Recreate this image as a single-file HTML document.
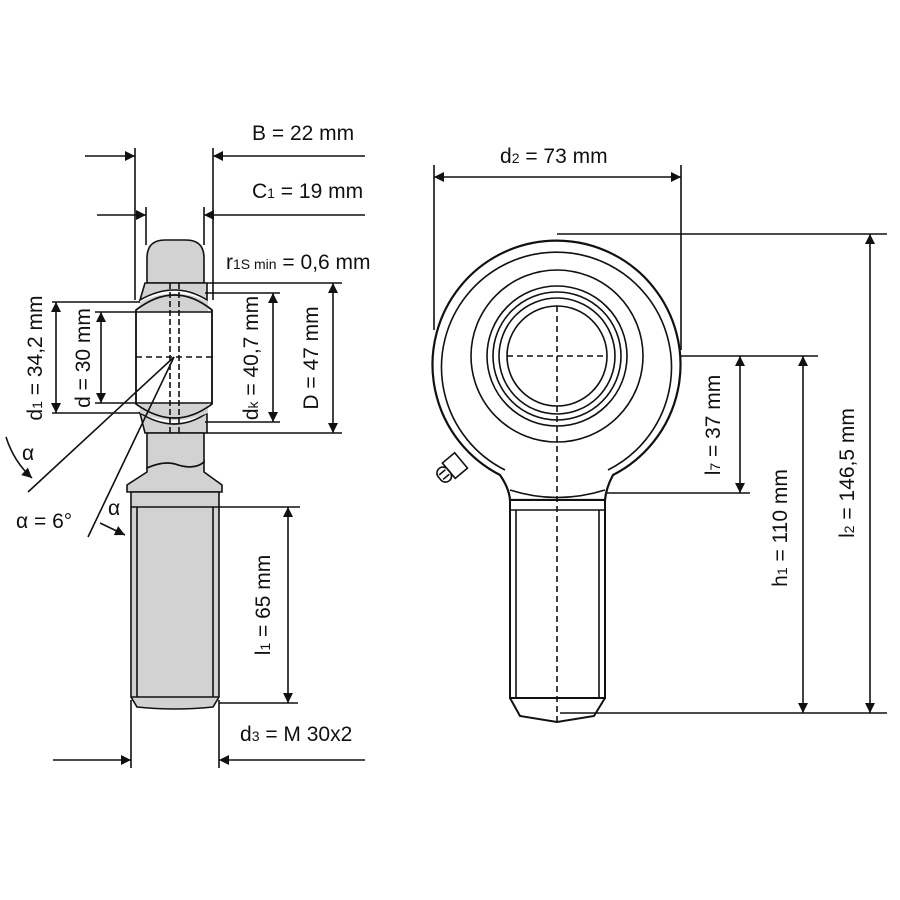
<!DOCTYPE html>
<html><head><style>body{margin:0;background:#fff}svg{display:block}text{font-family:"Liberation Sans",sans-serif;font-size:21px;fill:#111}</style></head><body>
<svg width="900" height="900" viewBox="0 0 900 900" xmlns="http://www.w3.org/2000/svg">
<defs>
<marker id="a" viewBox="0 0 10 10" refX="10" refY="5" markerWidth="12" markerHeight="8" markerUnits="userSpaceOnUse" orient="auto-start-reverse"><path d="M0,0L10,5L0,10z" fill="#111"/></marker>
<marker id="b" viewBox="0 0 10 10" refX="10" refY="5" markerWidth="22" markerHeight="10" markerUnits="userSpaceOnUse" orient="auto-start-reverse"><path d="M0,0L10,5L0,10z" fill="#111"/></marker>
</defs>
<g stroke="#111" stroke-width="1.6" fill="none">
<!-- LEFT PART -->
<!-- ext lines -->
<line x1="135" y1="148" x2="135" y2="300"/><line x1="213" y1="148" x2="213" y2="300"/>
<line x1="146" y1="207" x2="146" y2="245"/><line x1="204" y1="207" x2="204" y2="245"/>
<line x1="85" y1="156" x2="135" y2="156" marker-end="url(#b)"/><line x1="365" y1="156" x2="213" y2="156" marker-end="url(#b)"/>
<line x1="97" y1="215" x2="146" y2="215" marker-end="url(#b)"/><line x1="365" y1="215" x2="204" y2="215" marker-end="url(#b)"/>
<!-- body -->
<path d="M147,283 L147,258 Q147,240 165,240 L186,240 Q204,240 204,258 L204,283 Z" fill="#d2d2d2"/>
<path d="M145,283 L207,283 L207,300 Q175,280 140,300 Z" fill="#d2d2d2"/>
<path d="M140,413 Q175,435 207,413 L207,433 L145,433 Z" fill="#d2d2d2"/>
<path d="M136,310 Q175,280 212,310 L212,404 Q175,432 136,404 Z" fill="#fff"/>
<path d="M136,310 Q175,280 212,310 L212,404 Q175,432 136,404 Z" fill="#d2d2d2" clip-path="url(#none)" opacity="0"/>
<path d="M140,302 Q175,285 208,302 L208,312 L140,312 Z" fill="#d2d2d2" stroke="none"/>
<path d="M140,403 L208,403 L208,413 Q175,428 140,413 Z" fill="#d2d2d2" stroke="none"/>
<path d="M136,310 Q175,280 212,310 L212,404 Q175,432 136,404 Z"/>
<line x1="136" y1="312" x2="212" y2="312"/><line x1="136" y1="403" x2="212" y2="403"/>
<line x1="170" y1="283" x2="170" y2="433" stroke-dasharray="6,3"/><line x1="179" y1="283" x2="179" y2="433" stroke-dasharray="6,3"/>
<line x1="136" y1="357" x2="212" y2="357" stroke-dasharray="6,4"/>
<path d="M147,433 L147,468 Q165,460 178,465 Q195,470 204,462 L204,433 Z" fill="#d2d2d2"/>
<path d="M147,468 Q165,460 178,465 Q195,470 204,462 L204,472 L222,485 L222,492 L127,492 L127,485 L147,472 Z" fill="#d2d2d2"/>
<path d="M131,492 L219,492 L219,697 L213,707 Q175,711 137,707 L131,697 Z" fill="#d2d2d2"/>
<line x1="131" y1="507" x2="300" y2="507"/><line x1="131" y1="697" x2="219" y2="697"/>
<line x1="137" y1="507" x2="137" y2="697"/><line x1="213" y1="507" x2="213" y2="697"/>
<!-- horizontal dim ext -->
<line x1="207" y1="283" x2="342" y2="283"/><line x1="207" y1="433" x2="342" y2="433"/>
<line x1="205" y1="293" x2="280" y2="293"/><line x1="205" y1="422" x2="280" y2="422"/>
<line x1="52" y1="302" x2="140" y2="302"/><line x1="52" y1="413" x2="140" y2="413"/>
<line x1="95" y1="312" x2="136" y2="312"/><line x1="95" y1="403" x2="136" y2="403"/>
<line x1="219" y1="703" x2="298" y2="703"/>
<!-- vertical dims -->
<line x1="56" y1="302" x2="56" y2="413" marker-start="url(#b)" marker-end="url(#b)"/>
<line x1="101" y1="312" x2="101" y2="403" marker-start="url(#b)" marker-end="url(#b)"/>
<line x1="273" y1="293" x2="273" y2="422" marker-start="url(#b)" marker-end="url(#b)"/>
<line x1="333" y1="283" x2="333" y2="433" marker-start="url(#b)" marker-end="url(#b)"/>
<line x1="288" y1="507" x2="288" y2="703" marker-start="url(#b)" marker-end="url(#b)"/>
<!-- d3 -->
<line x1="131" y1="700" x2="131" y2="768"/><line x1="219" y1="700" x2="219" y2="768"/>
<line x1="53" y1="760" x2="131" y2="760" marker-end="url(#b)"/><line x1="365" y1="760" x2="219" y2="760" marker-end="url(#b)"/>
<!-- angle -->
<line x1="174" y1="357" x2="28" y2="492"/><line x1="174" y1="357" x2="88" y2="537"/>
<path d="M6,437 Q14,462 32,478" marker-end="url(#b)"/>
<path d="M100,523 L125,535" marker-end="url(#b)"/>
<!-- RIGHT PART -->
<line x1="434" y1="165" x2="434" y2="330"/><line x1="681" y1="165" x2="681" y2="350"/>
<line x1="434" y1="177" x2="681" y2="177" marker-start="url(#b)" marker-end="url(#b)"/>
<line x1="557" y1="234" x2="887" y2="234"/>
<line x1="557" y1="356" x2="818" y2="356"/>
<line x1="605" y1="493" x2="750" y2="493"/>
<line x1="560" y1="713" x2="887" y2="713"/>
<line x1="870" y1="234" x2="870" y2="713" marker-start="url(#b)" marker-end="url(#b)"/>
<line x1="803" y1="356" x2="803" y2="713" marker-start="url(#b)" marker-end="url(#b)"/>
<line x1="740" y1="356" x2="740" y2="493" marker-start="url(#b)" marker-end="url(#b)"/>
<path d="M500,475 A124,124 0 1 1 613,475 Q606,488 605,500 L510,500 Q509,488 500,475 Z" stroke-width="2.2" fill="#fff"/>
<path d="M505,470 A115,115 0 1 1 608,470" />
<path d="M510,490 Q557,505 605,490"/>
<circle cx="557" cy="356" r="86"/>
<circle cx="557" cy="356" r="70"/><circle cx="557" cy="356" r="64"/><circle cx="557" cy="356" r="58"/><circle cx="557" cy="356" r="50"/>
<rect x="510" y="500" width="95" height="198" fill="#fff" stroke-width="2"/>
<line x1="516" y1="510" x2="516" y2="698"/><line x1="599" y1="510" x2="599" y2="698"/>
<line x1="510" y1="510" x2="605" y2="510"/>
<path d="M510,698 L520,716 L557,722 L594,716 L605,698" stroke-width="2"/>
<line x1="557" y1="306" x2="557" y2="722" stroke-dasharray="6,4"/>
<line x1="507" y1="356" x2="607" y2="356" stroke-dasharray="6,4"/>
<g transform="translate(458,463) rotate(-40)"><rect x="-12" y="-10" width="16" height="20"/><rect x="-24" y="-8" width="12" height="16" rx="6"/><line x1="-22" y1="-3" x2="-14" y2="-3"/><line x1="-22" y1="3" x2="-14" y2="3"/></g>
</g>
<text x="252" y="140">B = 22 mm</text>
<text x="252" y="198">C<tspan font-size="14">1</tspan> = 19 mm</text>
<text x="226" y="269">r<tspan font-size="14">1S min</tspan> = 0,6 mm</text>
<text x="240" y="741">d<tspan font-size="14">3</tspan> = M 30x2</text>
<text x="16" y="528">α = 6°</text>
<text x="22" y="460">α</text>
<text x="108" y="515">α</text>
<text x="500" y="163">d<tspan font-size="14">2</tspan> = 73 mm</text>
<g>
<text transform="translate(42,358) rotate(-90)" text-anchor="middle">d<tspan font-size="14">1</tspan> = 34,2 mm</text>
<text transform="translate(90,358) rotate(-90)" text-anchor="middle">d = 30 mm</text>
<text transform="translate(258,358) rotate(-90)" text-anchor="middle">d<tspan font-size="14">k</tspan> = 40,7 mm</text>
<text transform="translate(318,358) rotate(-90)" text-anchor="middle">D = 47 mm</text>
<text transform="translate(270,605) rotate(-90)" text-anchor="middle">l<tspan font-size="14">1</tspan> = 65 mm</text>
<text transform="translate(720,425) rotate(-90)" text-anchor="middle">l<tspan font-size="14">7</tspan> = 37 mm</text>
<text transform="translate(787,528) rotate(-90)" text-anchor="middle">h<tspan font-size="14">1</tspan> = 110 mm</text>
<text transform="translate(854,473) rotate(-90)" text-anchor="middle">l<tspan font-size="14">2</tspan> = 146,5 mm</text>
</g>
</svg>
</body></html>
